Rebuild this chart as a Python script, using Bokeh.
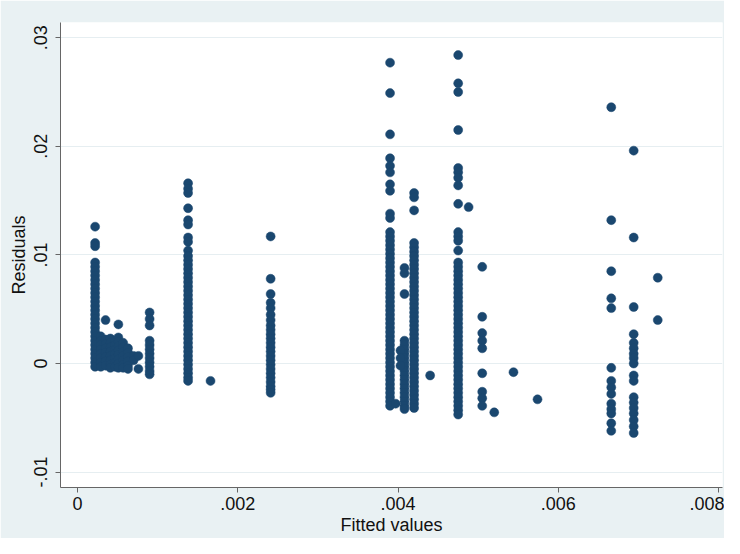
from bokeh.plotting import figure
from bokeh.models import Range1d, FixedTicker
from bokeh.embed import file_html
from bokeh.resources import INLINE

# ---- data: residuals grouped by fitted value ----
fit_a = 0.00022
res_a = [0.0126, 0.0111, 0.0108, 0.0093, 0.0089, 0.0085, 0.0081, 0.0077, 0.0073, 0.0069,
         0.0065, 0.0061, 0.0057, 0.0053, 0.0049, 0.0045, 0.0041, 0.0037, 0.0033, 0.0029,
         0.0025, 0.0021, 0.0017, 0.0013, 0.0009, 0.0005, 0.0001, -0.0003]

fit_blk = [0.00029, 0.00035, 0.00041, 0.00047, 0.00051, 0.00057, 0.00063, 0.00070, 0.00076]
res_blk = [
    [0.0025, 0.0021, 0.0017, 0.0013, 0.0009, 0.0005, 0.0001, -0.0003],
    [0.0040, 0.0022, 0.0018, 0.0014, 0.0010, 0.0006, 0.0002, -0.0002],
    [0.0023, 0.0019, 0.0015, 0.0011, 0.0007, 0.0003, -0.0001, -0.0004],
    [0.0021, 0.0017, 0.0013, 0.0009, 0.0005, 0.0001, -0.0003],
    [0.0036, 0.0024, 0.0020, 0.0016, 0.0012, 0.0008, 0.0004, 0.0000, -0.0004],
    [0.0019, 0.0015, 0.0011, 0.0007, 0.0003, -0.0001, -0.0004],
    [0.0014, 0.0010, 0.0006, 0.0002, -0.0002, -0.0005],
    [0.0007, 0.0003],
    [0.0007, -0.0005],
]

fit_b0 = 0.0009
res_b0 = [0.0047, 0.0041, 0.0035, 0.0021, 0.0017, 0.0013, 0.0009, 0.0005, 0.0001,
          -0.0003, -0.0007, -0.0010]

fit_b = 0.00138
res_b = [0.0166, 0.0161, 0.0157, 0.0143, 0.0132, 0.0128, 0.0116, 0.0112, 0.0104, 0.0099,
         0.0095, 0.0091, 0.0087, 0.0083, 0.0079, 0.0075, 0.0071, 0.0067, 0.0063, 0.0059,
         0.0055, 0.0051, 0.0047, 0.0043, 0.0039, 0.0035, 0.0031, 0.0027, 0.0023, 0.0019,
         0.0015, 0.0011, 0.0007, 0.0003, -0.0001, -0.0005, -0.0009, -0.0013, -0.0016]

fit_c = 0.00241
res_c = [0.0117, 0.0078, 0.0064, 0.0056, 0.0051, 0.0045, 0.0040, 0.0035, 0.0031, 0.0027,
         0.0023, 0.0019, 0.0015, 0.0011, 0.0007, 0.0003, -0.0001, -0.0005, -0.0009,
         -0.0013, -0.0017, -0.0021, -0.0024, -0.0027]

fit_d = 0.0039
res_d = [0.0277, 0.0249, 0.0211, 0.0189, 0.0182, 0.0176, 0.0165, 0.0159, 0.0138, 0.0134,
         0.0121, 0.0117, 0.0113, 0.0109, 0.0105, 0.0101, 0.0097, 0.0093, 0.0089, 0.0085,
         0.0081, 0.0077, 0.0073, 0.0069, 0.0065, 0.0061, 0.0057, 0.0053, 0.0049, 0.0045,
         0.0041, 0.0037, 0.0033, 0.0029, 0.0025, 0.0021, 0.0017, 0.0013, 0.0009, 0.0005,
         0.0001, -0.0003, -0.0007, -0.0011, -0.0015, -0.0019, -0.0023, -0.0027, -0.0031,
         -0.0035, -0.0039]

fit_d2 = 0.00408
res_d2 = [0.0088, 0.0083, 0.0064, 0.0021, 0.0017, 0.0013, 0.0009, 0.0005, 0.0001,
          -0.0003, -0.0007, -0.0011, -0.0015, -0.0019, -0.0023, -0.0027, -0.0031,
          -0.0035, -0.0039, -0.0042]

fit_e = 0.0042
res_e = [0.0157, 0.0153, 0.0141, 0.0111, 0.0107, 0.0103, 0.0099, 0.0095, 0.0091, 0.0087,
         0.0083, 0.0079, 0.0075, 0.0071, 0.0067, 0.0063, 0.0059, 0.0055, 0.0051, 0.0047,
         0.0043, 0.0039, 0.0035, 0.0031, 0.0027, 0.0023, 0.0019, 0.0015, 0.0011, 0.0007,
         0.0003, -0.0001, -0.0005, -0.0009, -0.0013, -0.0017, -0.0021, -0.0025, -0.0029,
         -0.0033, -0.0037, -0.0041]

fit_f = 0.00475
res_f = [0.0284, 0.0258, 0.0250, 0.0215, 0.0180, 0.0176, 0.0171, 0.0164, 0.0147, 0.0121,
         0.0117, 0.0113, 0.0104, 0.0093, 0.0089, 0.0085, 0.0081, 0.0077, 0.0073, 0.0069,
         0.0065, 0.0061, 0.0057, 0.0053, 0.0049, 0.0045, 0.0041, 0.0037, 0.0033, 0.0029,
         0.0025, 0.0021, 0.0017, 0.0013, 0.0009, 0.0005, 0.0001, -0.0003, -0.0007,
         -0.0011, -0.0015, -0.0019, -0.0023, -0.0027, -0.0031, -0.0035, -0.0039,
         -0.0043, -0.0047]

fit_g = 0.00505
res_g = [0.0089, 0.0043, 0.0028, 0.0021, 0.0014, -0.0009, -0.0026, -0.0032, -0.0039]

fit_h = 0.00666
res_h = [0.0236, 0.0132, 0.0085, 0.0060, 0.0051, -0.0004, -0.0016, -0.0022, -0.0028,
         -0.0037, -0.0042, -0.0046, -0.0055, -0.0062]

fit_i = 0.00694
res_i = [0.0196, 0.0116, 0.0052, 0.0027, 0.0019, 0.0014, 0.0009, 0.0005, 0.0000,
         -0.0011, -0.0016, -0.0031, -0.0036, -0.0041, -0.0046, -0.0052, -0.0058, -0.0064]

fit_j = 0.00724
res_j = [0.0079, 0.0040]

# isolated single observations
fit_single = [0.00166, 0.00397, 0.00403, 0.00403, 0.00403, 0.0044, 0.00488, 0.0052, 0.00544, 0.00574]
res_single = [-0.0016, -0.0037, 0.0012, 0.0005, -0.0002, -0.0011, 0.0144, -0.0045, -0.0008, -0.0033]

y_ticks = [-0.01, 0.0, 0.01, 0.02, 0.03]
y_tick_labels = ["-.01", "0", ".01", ".02", ".03"]
x_ticks = [0.0, 0.002, 0.004, 0.006, 0.008]
x_tick_labels = ["0", ".002", ".004", ".006", ".008"]

# ---- assemble ----
xs, ys = [], []
groups = [(fit_a, res_a), (fit_b0, res_b0), (fit_b, res_b), (fit_c, res_c), (fit_d, res_d),
          (fit_d2, res_d2), (fit_e, res_e), (fit_f, res_f), (fit_g, res_g), (fit_h, res_h),
          (fit_i, res_i), (fit_j, res_j)]
groups += list(zip(fit_blk, res_blk))
for fx, rs in groups:
    xs += [fx] * len(rs)
    ys += rs
xs += fit_single
ys += res_single

BG = "#e9f1f3"
FONT = "Liberation Sans"

p = figure(width=724, height=538, output_backend="svg", toolbar_location=None,
           x_range=Range1d(-0.000212, 0.008048), y_range=Range1d(-0.011418, 0.0314),
           min_border_left=60, min_border_right=2, min_border_top=22, min_border_bottom=51,
           background_fill_color="white", border_fill_color=BG, outline_line_color=None)

p.scatter(xs, ys, size=9, fill_color="#1a476f", line_color="#1a476f", line_width=0.5)

p.xgrid.grid_line_color = None
p.ygrid.grid_line_color = "#e6eef1"
p.ygrid.grid_line_width = 1.2

p.xaxis.ticker = FixedTicker(ticks=x_ticks)
p.yaxis.ticker = FixedTicker(ticks=y_ticks)
p.xaxis.major_label_overrides = dict(zip(x_ticks, x_tick_labels))
p.yaxis.major_label_overrides = dict(zip(y_ticks, y_tick_labels))
p.yaxis.major_label_orientation = "vertical"

for ax in (p.xaxis, p.yaxis):
    ax.axis_line_color = "#666666"
    ax.major_tick_line_color = "#666666"
    ax.major_tick_in = 0
    ax.major_tick_out = 5
    ax.minor_tick_line_color = None
    ax.major_label_text_font = FONT
    ax.major_label_text_font_size = "18px"
    ax.major_label_text_color = "#111111"
    ax.axis_label_text_font = FONT
    ax.axis_label_text_font_size = "18px"
    ax.axis_label_text_font_style = "normal"
    ax.axis_label_text_color = "#111111"

p.xaxis.axis_label = "Fitted values"
p.yaxis.axis_label = "Residuals"
p.xaxis.major_label_standoff = 4
p.xaxis.axis_label_standoff = 2
p.yaxis.major_label_standoff = 8
p.yaxis.axis_label_standoff = 3

open("out.html", "w").write(file_html(p, INLINE))
